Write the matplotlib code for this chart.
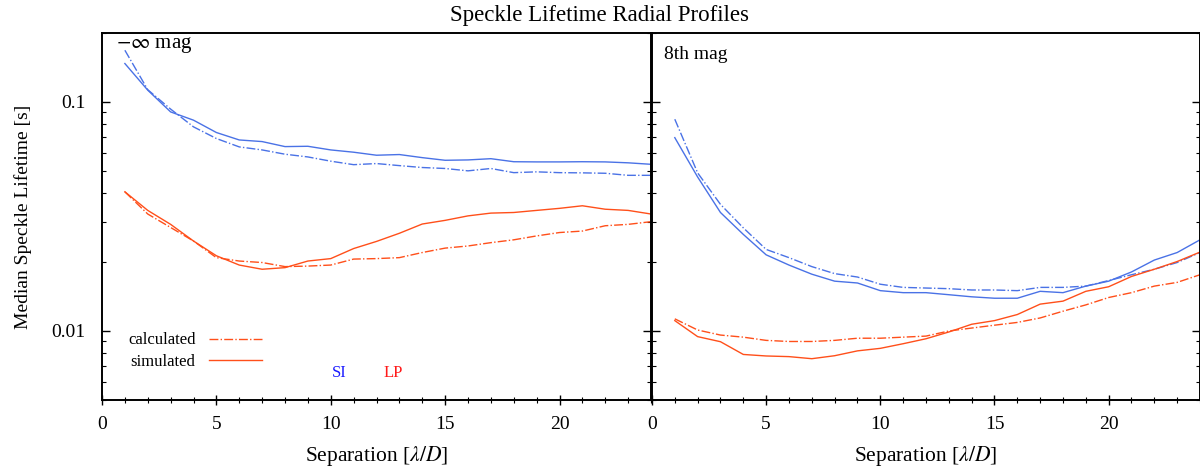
import numpy as np
import matplotlib.pyplot as plt
from matplotlib.lines import Line2D

plt.rcParams['font.family'] = ['Liberation Serif', 'DejaVu Serif']
plt.rcParams['mathtext.fontset'] = 'stix'
plt.rcParams['font.size'] = 13

# separation in lambda/D
sep = np.arange(1, 25)

# -inf mag panel
si_sim_inf = [0.147, 0.1125, 0.0904, 0.0832, 0.0735, 0.0682, 0.0671, 0.0638, 0.064, 0.0617,
              0.0603, 0.0585, 0.0589, 0.0571, 0.0556, 0.0558, 0.0565, 0.0548, 0.0547, 0.0547,
              0.0548, 0.0547, 0.0542, 0.0534]
si_calc_inf = [0.168, 0.113, 0.093, 0.0778, 0.0692, 0.0636, 0.0617, 0.0591, 0.0575, 0.0551,
               0.0532, 0.0538, 0.0527, 0.0517, 0.0512, 0.050, 0.0512, 0.0491, 0.0495, 0.0491,
               0.049, 0.0488, 0.0478, 0.0478]
lp_sim_inf = [0.0405, 0.0336, 0.0292, 0.0247, 0.0213, 0.0194, 0.0186, 0.0189, 0.0202, 0.0207,
              0.0229, 0.0246, 0.0267, 0.0293, 0.0304, 0.0318, 0.0327, 0.0329, 0.0336, 0.0343,
              0.0352, 0.034, 0.0336, 0.0324]
lp_calc_inf = [0.0405, 0.0324, 0.0283, 0.0247, 0.0209, 0.0202, 0.0199, 0.0191, 0.0192, 0.0194,
               0.0206, 0.0207, 0.0209, 0.022, 0.023, 0.0235, 0.0243, 0.025, 0.026, 0.0269,
               0.0273, 0.0288, 0.0292, 0.030]

# 8th mag panel
si_sim_8 = [0.0698, 0.047, 0.0329, 0.0264, 0.0215, 0.0194, 0.0177, 0.0165, 0.0162, 0.015,
            0.0147, 0.0147, 0.0144, 0.0141, 0.0139, 0.0139, 0.0149, 0.0147, 0.0157, 0.0165,
            0.0181, 0.0204, 0.022, 0.025]
si_calc_8 = [0.084, 0.049, 0.0357, 0.0282, 0.0227, 0.0209, 0.0191, 0.0178, 0.0172, 0.016,
             0.0155, 0.0154, 0.0153, 0.0151, 0.0151, 0.015, 0.0155, 0.0155, 0.0157, 0.0166,
             0.0176, 0.0186, 0.0199, 0.022]
lp_sim_8 = [0.0111, 0.00945, 0.00898, 0.0079, 0.00778, 0.00773, 0.00757, 0.0078, 0.00819, 0.0084,
            0.0088, 0.00925, 0.0099, 0.0107, 0.0111, 0.0118, 0.0131, 0.0135, 0.0149, 0.0156,
            0.0173, 0.0186, 0.0201, 0.0221]
lp_calc_8 = [0.0113, 0.0101, 0.0096, 0.0094, 0.0091, 0.009, 0.009, 0.0091, 0.0093, 0.0093,
             0.0094, 0.0095, 0.0100, 0.0103, 0.0106, 0.0109, 0.0114, 0.0122, 0.013, 0.014,
             0.0147, 0.0157, 0.0163, 0.0176]

blue = '#4a72e6'
red = '#ff4f1a'

fig = plt.figure(figsize=(12, 4.7), dpi=100)
ax1 = fig.add_axes([0.085, 0.149, 0.4575, 0.781])
ax2 = fig.add_axes([0.5433, 0.149, 0.4567, 0.781])

panels = [
    (ax1, si_sim_inf, si_calc_inf, lp_sim_inf, lp_calc_inf),
    (ax2, si_sim_8, si_calc_8, lp_sim_8, lp_calc_8),
]

for ax, si_s, si_c, lp_s, lp_c in panels:
    ax.plot(sep, si_s, '-', color=blue, lw=1.0)
    ax.plot(sep, si_c, '-.', color=blue, lw=1.0)
    ax.plot(sep, lp_s, '-', color=red, lw=1.0)
    ax.plot(sep, lp_c, '-.', color=red, lw=1.0)
    ax.set_yscale('log')
    ax.set_xlim(0, 24)
    ax.set_ylim(0.005, 0.2)
    ax.set_xticks([0, 5, 10, 15, 20])
    ax.set_xticks(np.arange(0, 25, 1), minor=True)
    ax.tick_params(axis='x', which='major', direction='inout', length=7, width=1, pad=8, labelsize=14)
    ax.tick_params(axis='x', which='minor', direction='inout', length=4, width=0.8)
    ax.tick_params(axis='y', which='both', direction='in', left=True, right=True, labelsize=14, pad=12)
    ax.tick_params(axis='y', which='major', length=6, width=1)
    ax.tick_params(axis='y', which='minor', length=3, width=0.8)
    for s in ax.spines.values():
        s.set_linewidth(1.4)
    ax.set_xlabel(r'Separation [$\lambda/D$]', labelpad=8, fontsize=15.5)

ax1.set_yticks([0.1, 0.01])
ax1.set_yticklabels(['0.1', '0.01'])
ax1.yaxis.set_minor_formatter(plt.NullFormatter())
ax1.set_ylabel('Median Speckle Lifetime [s]', labelpad=14, fontsize=14)
ax2.set_yticklabels([])
ax2.yaxis.set_minor_formatter(plt.NullFormatter())

ax1.text(0.025, 0.995, r'$-\infty$ mag', transform=ax1.transAxes, ha='left', va='top', fontsize=15)
ax2.text(0.022, 0.94, '8th mag', transform=ax2.transAxes, ha='left', va='center', fontsize=14)

handles = [Line2D([], [], color=red, ls='-.', lw=1.0),
           Line2D([], [], color=red, ls='-', lw=1.0)]
ax1.legend(handles, ['calculated', 'simulated'], loc='lower left', bbox_to_anchor=(0.02, 0.04),
           frameon=False, markerfirst=False, handlelength=3.2, fontsize=12, labelspacing=0.35)

ax1.text(0.433, 0.074, 'SI', color='#1a1aff', transform=ax1.transAxes, ha='center', va='center', fontsize=12)
ax1.text(0.53, 0.074, 'LP', color='#ff1a1a', transform=ax1.transAxes, ha='center', va='center', fontsize=12)

fig.suptitle('Speckle Lifetime Radial Profiles', y=0.99, fontsize=16.5)

fig.savefig('out.png', dpi=100)
